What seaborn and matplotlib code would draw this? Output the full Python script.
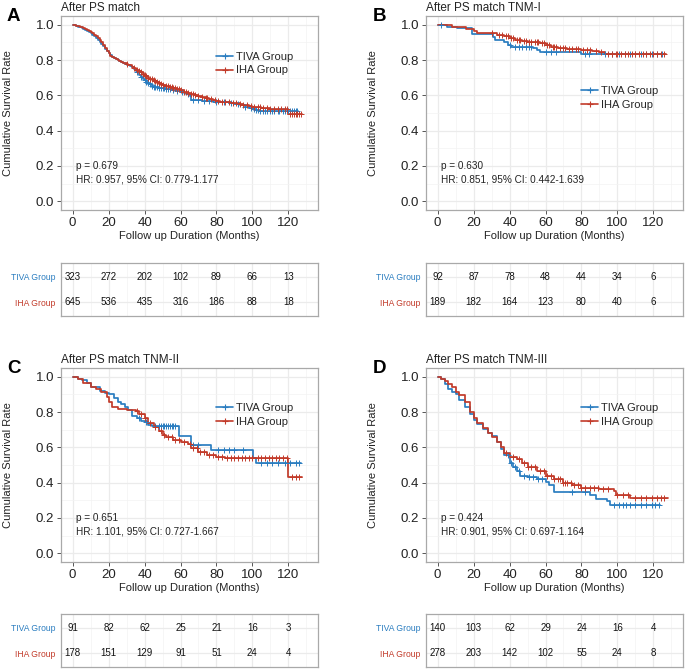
import numpy as np
import matplotlib.pyplot as plt
import seaborn as sns
from matplotlib.lines import Line2D
from matplotlib.ticker import MultipleLocator

sns.set_theme(style="white")
plt.rcParams['font.family'] = ['Liberation Sans', 'DejaVu Sans']

TIVA_COLOR = "#2A7DC0"
IHA_COLOR = "#C23B2A"
groups = ["TIVA Group", "IHA Group"]
risk_times = [0, 20, 40, 60, 80, 100, 120]

# Panel A - After PS match
a_tiva_t = [0, 1, 2, 3, 4, 5, 6, 7, 8, 9, 10, 11, 12, 13, 14, 15, 16, 17, 18, 19, 20, 21, 22,
            23, 24, 25, 26, 27, 28, 29, 30, 31, 32, 33, 34, 35, 36, 37, 38, 39, 40, 41, 42, 43,
            44, 45, 46, 48, 50, 52, 54, 56, 58, 60, 62, 64, 65, 66, 69, 72, 75, 78, 81, 84, 87,
            90, 93, 96, 98, 100, 102, 104]
a_tiva_s = [1.0, 0.998, 0.995, 0.99, 0.985, 0.98, 0.975, 0.97, 0.965, 0.96, 0.955, 0.945,
            0.935, 0.925, 0.915, 0.903, 0.89, 0.878, 0.865, 0.852, 0.84, 0.83, 0.82, 0.812,
            0.805, 0.8, 0.795, 0.79, 0.785, 0.78, 0.775, 0.77, 0.765, 0.758, 0.75, 0.74, 0.73,
            0.718, 0.705, 0.695, 0.685, 0.678, 0.67, 0.662, 0.655, 0.65, 0.645, 0.643, 0.64,
            0.638, 0.635, 0.63, 0.625, 0.62, 0.615, 0.605, 0.595, 0.575, 0.572, 0.57, 0.568,
            0.565, 0.562, 0.56, 0.555, 0.55, 0.543, 0.535, 0.528, 0.52, 0.515, 0.51]
a_tiva_end = 125.5
a_tiva_cens = [36, 38, 40, 41, 42, 43, 44, 45, 46, 47, 48, 49, 50, 51, 52, 53, 54, 56, 58, 61,
               64, 67, 70, 73, 76, 80, 84, 88, 92, 96, 99, 101, 102, 103, 104, 106, 107, 108,
               110, 111, 112, 114, 115, 117, 118, 120, 121, 122, 123, 124, 125]
a_iha_t = [0, 1, 2, 3, 4, 5, 6, 7, 8, 9, 10, 11, 12, 13, 14, 15, 16, 17, 18, 19, 20, 21, 22,
           23, 24, 25, 26, 27, 28, 29, 30, 31, 32, 33, 34, 35, 36, 37, 38, 39, 40, 41, 42, 43,
           44, 45, 46, 47, 48, 49, 50, 52, 54, 56, 58, 60, 62, 64, 66, 68, 70, 72, 74, 76, 78,
           80, 82, 84, 86, 88, 90, 93, 95, 98, 100, 103, 105, 108, 110, 115, 120]
a_iha_s = [1.0, 0.998, 0.995, 0.993, 0.99, 0.985, 0.98, 0.975, 0.97, 0.966, 0.962, 0.954,
           0.945, 0.935, 0.925, 0.913, 0.9, 0.885, 0.87, 0.854, 0.838, 0.826, 0.815, 0.81,
           0.805, 0.8, 0.795, 0.79, 0.785, 0.782, 0.78, 0.775, 0.77, 0.762, 0.755, 0.75, 0.745,
           0.738, 0.73, 0.722, 0.715, 0.708, 0.7, 0.695, 0.69, 0.685, 0.68, 0.675, 0.67, 0.665,
           0.66, 0.652, 0.645, 0.64, 0.635, 0.628, 0.62, 0.615, 0.61, 0.602, 0.595, 0.59,
           0.585, 0.58, 0.575, 0.57, 0.565, 0.562, 0.56, 0.557, 0.555, 0.55, 0.545, 0.54,
           0.535, 0.532, 0.53, 0.527, 0.525, 0.522, 0.495]
a_iha_end = 127.5
a_iha_cens = [30, 34, 36, 37, 38, 39, 40, 41, 42, 43, 44, 45, 46, 47, 48, 49, 50, 52, 53, 54,
              55, 56, 57, 58, 59, 60, 62, 63, 64, 66, 67, 68, 70, 72, 74, 75, 77, 79, 81, 83,
              85, 87, 89, 91, 93, 95, 97, 99, 101, 103, 104, 106, 108, 110, 112, 114, 116,
              118, 119, 121, 122, 123, 124, 125, 126, 127]
a_risk_tiva = [323, 272, 202, 102, 89, 66, 13]
a_risk_iha = [645, 536, 435, 316, 186, 88, 18]

# Panel B - TNM-I
b_tiva_t = [0, 5, 11, 19, 31, 32, 37, 39, 41, 53, 55, 57, 80]
b_tiva_s = [1.0, 0.99, 0.98, 0.95, 0.93, 0.915, 0.9, 0.885, 0.875, 0.87, 0.86, 0.847, 0.832]
b_tiva_end = 126
b_tiva_cens = [2, 40, 43, 45, 47, 49, 51, 52, 60, 63, 66, 82, 84, 93, 97, 101, 104, 107, 110,
               113, 116, 119, 122, 125]
b_iha_t = [0, 8, 13, 16, 20, 22, 33, 37, 40, 43, 47, 50, 53, 57, 60, 63, 67, 72, 80, 86, 90, 93]
b_iha_s = [1.0, 0.99, 0.985, 0.975, 0.965, 0.955, 0.945, 0.935, 0.925, 0.915, 0.91, 0.905,
           0.9, 0.895, 0.885, 0.875, 0.87, 0.865, 0.86, 0.85, 0.845, 0.835]
b_iha_end = 127
b_iha_cens = [30, 34, 36, 38, 39, 41, 42, 44, 45, 46, 48, 49, 51, 52, 54, 55, 56, 58, 59, 61,
              62, 64, 65, 66, 68, 70, 71, 73, 75, 77, 78, 81, 83, 85, 88, 91, 95, 97, 99, 100,
              102, 104, 106, 108, 110, 112, 114, 116, 118, 120, 122, 124, 126]
b_risk_tiva = [92, 87, 78, 48, 44, 34, 6]
b_risk_iha = [189, 182, 164, 123, 80, 40, 6]

# Panel C - TNM-II
c_tiva_t = [0, 3, 5, 8, 10, 15, 18, 20, 23, 25, 27, 29, 31, 33, 36, 38, 40, 42, 44, 59, 66,
            77, 100.5, 102]
c_tiva_s = [1.0, 0.99, 0.98, 0.965, 0.94, 0.92, 0.91, 0.9, 0.88, 0.86, 0.845, 0.83, 0.81,
            0.78, 0.768, 0.752, 0.743, 0.724, 0.72, 0.665, 0.612, 0.587, 0.537, 0.51]
c_tiva_end = 127
c_tiva_cens = [37, 41, 46, 48, 49, 50, 51, 52, 53, 54, 55, 56, 57, 67, 70, 81, 84, 87, 90, 95,
               105, 108, 111, 114, 118, 121, 124, 126]
c_iha_t = [0, 3, 6, 10, 13, 16, 19, 20, 22, 25, 30, 35, 37, 40, 42, 45, 48, 50, 52, 56, 60,
           64, 66, 70, 75, 80, 85, 120]
c_iha_s = [1.0, 0.985, 0.965, 0.943, 0.93, 0.915, 0.886, 0.855, 0.83, 0.82, 0.81, 0.804, 0.79,
           0.768, 0.74, 0.715, 0.69, 0.67, 0.657, 0.642, 0.632, 0.619, 0.597, 0.572, 0.558,
           0.547, 0.537, 0.43]
c_iha_end = 127.5
c_iha_cens = [36, 38, 40, 43, 46, 49, 51, 53, 55, 57, 59, 62, 65, 67, 69, 71, 73, 76, 78, 81,
              83, 86, 88, 90, 92, 94, 96, 98, 100, 103, 105, 107, 109, 111, 113, 115, 117, 119,
              122, 124, 126]
c_risk_tiva = [91, 82, 62, 25, 21, 16, 3]
c_risk_iha = [178, 151, 129, 91, 51, 24, 4]

# Panel D - TNM-III
d_tiva_t = [0, 2, 4, 6, 8, 10, 12, 15, 18, 20, 22, 25, 28, 30, 33, 35, 37, 40, 42, 44, 46,
            50, 55, 60, 62, 65, 85, 88, 94, 96]
d_tiva_s = [1.0, 0.985, 0.96, 0.93, 0.915, 0.9, 0.87, 0.83, 0.79, 0.755, 0.73, 0.705, 0.68,
            0.662, 0.632, 0.59, 0.558, 0.51, 0.488, 0.468, 0.44, 0.43, 0.42, 0.406, 0.385,
            0.345, 0.33, 0.31, 0.295, 0.276]
d_tiva_end = 123.5
d_tiva_cens = [39, 41, 43, 45, 48, 51, 53, 56, 58, 75, 82, 98, 101, 103, 105, 107, 110, 113,
               116, 119, 121, 123]
d_iha_t = [0, 2, 4, 6, 8, 10, 12, 15, 18, 20, 22, 25, 28, 30, 33, 35, 37, 40, 44, 47, 50, 55,
           60, 65, 70, 75, 80, 90, 98, 99, 107]
d_iha_s = [1.0, 0.99, 0.975, 0.96, 0.94, 0.915, 0.895, 0.855, 0.8, 0.765, 0.74, 0.71, 0.68,
           0.66, 0.63, 0.6, 0.57, 0.548, 0.535, 0.512, 0.49, 0.465, 0.438, 0.42, 0.4, 0.387,
           0.37, 0.364, 0.352, 0.33, 0.313]
d_iha_end = 128
d_iha_cens = [38, 42, 45, 48, 50, 52, 54, 57, 59, 61, 63, 65, 67, 68, 70, 71, 72, 74, 76, 78,
              80, 82, 85, 87, 89, 92, 95, 100, 103, 106, 110, 113, 116, 119, 122, 124, 126]
d_risk_tiva = [140, 103, 62, 29, 24, 16, 4]
d_risk_iha = [278, 203, 142, 102, 55, 24, 8]

panels = [
    dict(letter="A", title="After PS match", p="p = 0.679", hr="HR: 0.957, 95% CI: 0.779-1.177",
         tiva=(a_tiva_t, a_tiva_s, a_tiva_end, a_tiva_cens),
         iha=(a_iha_t, a_iha_s, a_iha_end, a_iha_cens),
         risk=(a_risk_tiva, a_risk_iha), leg_y=0.755, col=0, row=0),
    dict(letter="B", title="After PS match TNM-I", p="p = 0.630", hr="HR: 0.851, 95% CI: 0.442-1.639",
         tiva=(b_tiva_t, b_tiva_s, b_tiva_end, b_tiva_cens),
         iha=(b_iha_t, b_iha_s, b_iha_end, b_iha_cens),
         risk=(b_risk_tiva, b_risk_iha), leg_y=0.578, col=1, row=0),
    dict(letter="C", title="After PS match TNM-II", p="p = 0.651", hr="HR: 1.101, 95% CI: 0.727-1.667",
         tiva=(c_tiva_t, c_tiva_s, c_tiva_end, c_tiva_cens),
         iha=(c_iha_t, c_iha_s, c_iha_end, c_iha_cens),
         risk=(c_risk_tiva, c_risk_iha), leg_y=0.758, col=0, row=1),
    dict(letter="D", title="After PS match TNM-III", p="p = 0.424", hr="HR: 0.901, 95% CI: 0.697-1.164",
         tiva=(d_tiva_t, d_tiva_s, d_tiva_end, d_tiva_cens),
         iha=(d_iha_t, d_iha_s, d_iha_end, d_iha_cens),
         risk=(d_risk_tiva, d_risk_iha), leg_y=0.758, col=1, row=1),
]

W, H = 685, 669
fig = plt.figure(figsize=(W / 100, H / 100), dpi=100)

XLIM = (-6.5, 136.5)
BORDER = "#A9A9A9"


def style_grid(ax):
    ax.set_xlim(*XLIM)
    ax.set_xticks(risk_times)
    ax.xaxis.set_minor_locator(MultipleLocator(10))
    ax.grid(which='major', color='#EBEBEB', lw=0.9)
    ax.grid(which='minor', color='#F3F3F3', lw=0.5)
    ax.set_axisbelow(True)
    for sp in ax.spines.values():
        sp.set_color(BORDER)
        sp.set_linewidth(0.9)


for pnl in panels:
    x0 = 61 if pnl['col'] == 0 else 426
    top = 16 if pnl['row'] == 0 else 368
    tab_top = 263 if pnl['row'] == 0 else 614
    ax = fig.add_axes([x0 / W, 1 - (top + 194) / H, 257 / W, 194 / H])
    tab = fig.add_axes([x0 / W, 1 - (tab_top + 53) / H, 257 / W, 53 / H])

    # survival curves
    for (t, s, end, cens), color in zip([pnl['tiva'], pnl['iha']], [TIVA_COLOR, IHA_COLOR]):
        sns.lineplot(x=t + [end], y=s + [s[-1]], drawstyle='steps-post', color=color,
                     lw=1.25, estimator=None, sort=False, ax=ax)
        idx = np.searchsorted(t, cens, side='right') - 1
        sns.scatterplot(x=cens, y=np.array(s)[idx], marker='+', s=16, color=color,
                        linewidth=0.7, ax=ax, zorder=3)

    style_grid(ax)
    ax.set_ylim(-0.05, 1.05)
    yt = [0.0, 0.2, 0.4, 0.6, 0.8, 1.0]
    ax.set_yticks(yt)
    ax.set_yticklabels([f"{v:.1f}" for v in yt])
    ax.yaxis.set_minor_locator(MultipleLocator(0.1))
    ax.tick_params(which='major', length=3, width=0.7, color='#555555', labelsize=9.5,
                   labelcolor='#222222', pad=2, left=True, bottom=True)
    ax.tick_params(which='minor', length=0)
    ax.set_xlabel("Follow up Duration (Months)", fontsize=8, labelpad=1.5, color='#222222')
    ax.set_ylabel("Cumulative Survival Rate", fontsize=8, color='#222222')
    ax.yaxis.set_label_coords(-0.185, 0.5)
    ax.set_title(pnl['title'], loc='left', fontsize=8.5, pad=3.5, color='#222222')

    ax.text(2, 0.2, pnl['p'], fontsize=7.2, va='center', ha='left', color='#222222')
    ax.text(2, 0.125, pnl['hr'], fontsize=7.2, va='center', ha='left', color='#222222')

    handles = [Line2D([], [], color=c, lw=1.2, marker='+', markersize=5, mew=0.8)
               for c in [TIVA_COLOR, IHA_COLOR]]
    ax.legend(handles, groups, loc='center left', bbox_to_anchor=(0.605, pnl['leg_y']),
              frameon=False, fontsize=8, handlelength=1.5, handletextpad=0.3,
              labelspacing=0.35, borderpad=0, borderaxespad=0)

    fig.text((13.5 if pnl['col'] == 0 else 380) / W, 1 - (top + 0.5) / H, pnl['letter'],
             fontsize=13.5, fontweight='bold', ha='center', va='center', color='black')

    # number at risk table
    style_grid(tab)
    tab.set_ylim(-0.55, 1.55)
    tab.set_yticks([0, 1])
    tab.set_yticklabels(["IHA Group", "TIVA Group"], fontsize=6.2)
    for lab, c in zip(tab.get_yticklabels(), [IHA_COLOR, TIVA_COLOR]):
        lab.set_color(c)
    tab.set_xticklabels([])
    tab.tick_params(which='both', length=0, pad=4)
    for row_y, vals in zip([1, 0], pnl['risk']):
        for t, v in zip(risk_times, vals):
            tab.text(t, row_y, str(v), ha='center', va='center', fontsize=7, color='#111111')

fig.savefig("out.png", dpi=100)
